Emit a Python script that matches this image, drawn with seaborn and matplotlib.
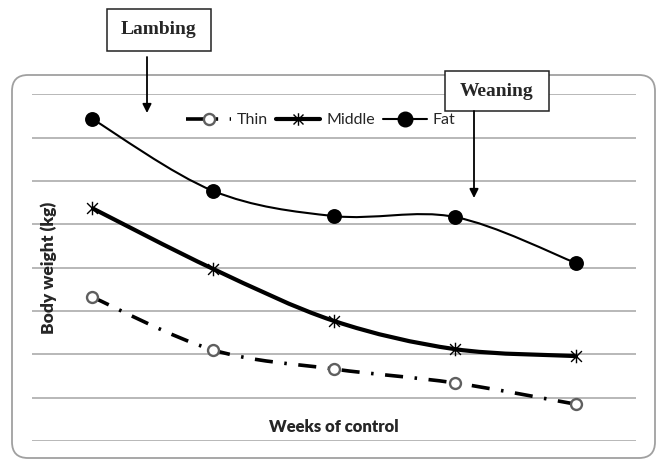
import matplotlib
matplotlib.use("Agg")
import matplotlib.pyplot as plt
import seaborn as sns
import pandas as pd
from matplotlib.path import Path
from matplotlib.patches import PathPatch, FancyBboxPatch, Rectangle, FancyArrowPatch
from matplotlib.lines import Line2D

# data (no y tick labels in the original, grid units)
weeks = [1, 2, 3, 4, 5]
thin = [3.32, 2.10, 1.66, 1.34, 0.85]
middle = [5.37, 3.97, 2.77, 2.12, 1.96]
fat = [7.43, 5.77, 5.19, 5.17, 4.11]

sns.set_style("white")
plt.rcParams["font.family"] = ["Lato", "DejaVu Sans"]

df = pd.DataFrame({"pos": range(len(weeks)), "Thin": thin, "Middle": middle, "Fat": fat})

fig = plt.figure(figsize=(6.57, 4.59), dpi=100)
ax = fig.add_axes([32 / 657, 1 - 441 / 459, 604 / 657, 346.7 / 459])

# star marker like excel (x with a vertical bar)
star = Path([(-1, -1), (1, 1), (-1, 1), (1, -1), (0, -1.25), (0, 1.25)],
            [Path.MOVETO, Path.LINETO, Path.MOVETO, Path.LINETO, Path.MOVETO, Path.LINETO])

thin_ls = (0, (5.0, 3.2, 0.7, 3.2))


def smooth(xs, ys):
    # excel style smoothed line: bezier segments through the points
    pts = list(zip(xs, ys))
    verts = [pts[0]]
    codes = [Path.MOVETO]
    n = len(pts)
    for i in range(n - 1):
        p0 = pts[i - 1] if i > 0 else pts[i]
        p1 = pts[i]
        p2 = pts[i + 1]
        p3 = pts[i + 2] if i + 2 < n else pts[i + 1]
        c1 = (p1[0] + (p2[0] - p0[0]) / 6, p1[1] + (p2[1] - p0[1]) / 6)
        c2 = (p2[0] - (p3[0] - p1[0]) / 6, p2[1] - (p3[1] - p1[1]) / 6)
        verts += [c1, c2, p2]
        codes += [Path.CURVE4] * 3
    return Path(verts, codes)


ax.add_patch(PathPatch(smooth(df["pos"], df["Thin"]), fill=False, ec="black", lw=2.6,
                       ls=thin_ls, zorder=3))
ax.add_patch(PathPatch(smooth(df["pos"], df["Middle"]), fill=False, ec="black", lw=3.0, zorder=3))
ax.add_patch(PathPatch(smooth(df["pos"], df["Fat"]), fill=False, ec="black", lw=1.5, zorder=3))

sns.scatterplot(data=df, x="pos", y="Thin", ax=ax, marker="o", s=62, facecolor="white",
                edgecolor="#5f5f5f", linewidth=1.7, zorder=4)
sns.scatterplot(data=df, x="pos", y="Middle", ax=ax, marker=star, s=95, color="black",
                edgecolor="black", linewidth=1.0, zorder=4)
sns.scatterplot(data=df, x="pos", y="Fat", ax=ax, marker="o", s=115, color="black",
                edgecolor="black", linewidth=0, zorder=4)

ax.set_xlim(-0.5, 4.5)
ax.set_ylim(0, 8)
ax.set_yticks(range(0, 9))
ax.set_xticks([])
ax.tick_params(left=False, labelleft=False)
ax.grid(axis="y", color="#ababab", lw=1.2)
for s in ax.spines.values():
    s.set_visible(False)
ax.patch.set_alpha(0)

ax.set_xlabel("Weeks of control", fontsize=12, fontweight="heavy")
ax.xaxis.set_label_coords(0.5, 0.064)
ax.set_ylabel("Body weight (kg)", fontsize=12.5, fontweight="heavy")
ax.yaxis.set_label_coords(0.041, 0.5)

handles = [
    Line2D([], [], color="black", lw=2.6, ls=thin_ls, marker="o", markersize=8,
           markerfacecolor="white", markeredgecolor="#5f5f5f", markeredgewidth=1.7),
    Line2D([], [], color="black", lw=3.0, marker=star, markersize=9, markeredgewidth=1.0),
    Line2D([], [], color="black", lw=1.5, marker="o", markersize=10.5),
]
ax.legend(handles, ["Thin", "Middle", "Fat"], ncol=3, frameon=False, fontsize=11.5,
          loc="center", bbox_to_anchor=(321 / 657, 1 - 120 / 459),
          bbox_transform=fig.transFigure, handlelength=2.8, handletextpad=0.35,
          columnspacing=0.5)

# rounded outer frame
fig.patches.append(FancyBboxPatch((0.12, 0.01), 6.43, 3.83,
                                  boxstyle="round,pad=0,rounding_size=0.16",
                                  transform=fig.dpi_scale_trans, fill=False,
                                  ec="#a0a0a0", lw=1.3, zorder=0.5))

# event boxes and arrows
for label, x0, y0, w, h, ax_x, ay0, ay1 in [
    ("Lambing", 1.07, 4.08, 1.04, 0.42, 1.47, 4.02, 3.46),
    ("Weaning", 4.45, 3.48, 1.04, 0.40, 4.74, 3.48, 2.61),
]:
    fig.patches.append(Rectangle((x0, y0), w, h, transform=fig.dpi_scale_trans,
                                 fc="white", ec="#222222", lw=1.1, zorder=5))
    fig.text(x0 + w / 2, y0 + h / 2, label, transform=fig.dpi_scale_trans,
             ha="center", va="center", fontsize=14, fontweight="bold",
             family=["Liberation Serif", "DejaVu Serif"], zorder=6)
    fig.patches.append(FancyArrowPatch((ax_x, ay0), (ax_x, ay1), transform=fig.dpi_scale_trans,
                                       arrowstyle="-|>", mutation_scale=13, lw=1.3,
                                       color="black", shrinkA=0, shrinkB=0, zorder=6))

fig.savefig("out.png", dpi=100)
